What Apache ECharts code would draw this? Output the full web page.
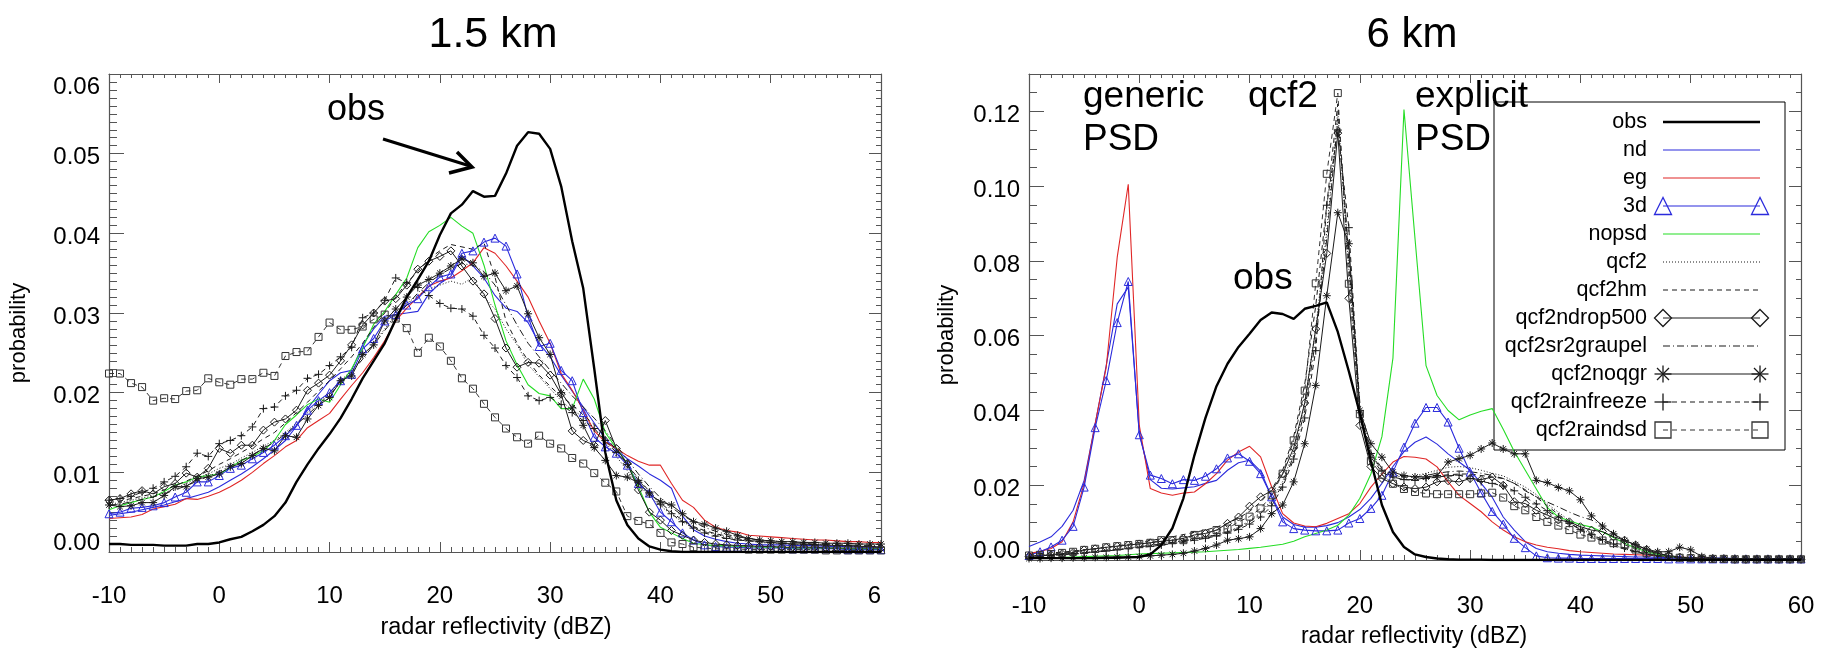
<!DOCTYPE html>
<html>
<head>
<meta charset="utf-8">
<script src="https://cdn.jsdelivr.net/npm/echarts@6/dist/echarts.min.js"></script>
<style>
  html, body { margin: 0; padding: 0; background: #fff; }
  #chart { width: 1830px; height: 651px; }
</style>
</head>
<body>
<div id="chart"></div>
<script>
// reflectivity bins (dBZ)
var dbz = [-10,-9,-8,-7,-6,-5,-4,-3,-2,-1,
  0,1,2,3,4,5,6,7,8,9,
  10,11,12,13,14,15,16,17,18,19,
  20,21,22,23,24,25,26,27,28,29,
  30,31,32,33,34,35,36,37,38,39,
  40,41,42,43,44,45,46,47,48,49,
  50,51,52,53,54,55,56,57,58,59,60];
var xTicks = [-10, 0, 10, 20, 30, 40, 50, 60];

var names = ['obs','nd','eg','3d','nopsd','qcf2','qcf2hm','qcf2ndrop500',
  'qcf2sr2graupel','qcf2noqgr','qcf2rainfreeze','qcf2raindsd'];

// ---- 1.5 km ----
var obsL = [0.0010,0.0010,0.0009,0.0009,0.0009,0.0008,0.0008,0.0008,0.0010,0.0010,
  0.0012,0.0016,0.0019,0.0026,0.0034,0.0045,0.0062,0.0088,0.0110,0.0130,
  0.0148,0.0168,0.0192,0.0218,0.0240,0.0262,0.0292,0.0320,0.0342,0.0365,
  0.0398,0.0425,0.0436,0.0453,0.0446,0.0447,0.0475,0.0510,0.0527,0.0525,
  0.0506,0.0459,0.0390,0.0331,0.0230,0.0125,0.0065,0.0034,0.0017,0.0007,
  0.0003,0.0001,0,0,0,0,0,0,0,0,
  0,0,0,0,0,0,0,0,0,0,0];
var ndL = [0.0046,0.0048,0.0050,0.0053,0.0056,0.0059,0.0063,0.0067,0.0071,0.0075,
  0.0082,0.0090,0.0098,0.0107,0.0117,0.0128,0.0140,0.0158,0.0180,0.0198,
  0.0215,0.0225,0.0228,0.0260,0.0280,0.0296,0.0298,0.0300,0.0302,0.0324,
  0.0337,0.0346,0.0372,0.0359,0.0344,0.0322,0.0306,0.0302,0.0288,0.0262,
  0.0245,0.0222,0.0202,0.0182,0.0162,0.0142,0.0128,0.0117,0.0108,0.0098,
  0.0090,0.0080,0.0045,0.0028,0.0020,0.0016,0.0013,0.0011,0.0010,0.0009,
  0.0009,0.0009,0.0008,0.0008,0.0008,0.0007,0.0007,0.0007,0.0006,0.0006,0.0006];
var egL = [0.0042,0.0043,0.0044,0.0047,0.0054,0.0057,0.0060,0.0067,0.0066,0.0070,
  0.0075,0.0082,0.0090,0.0100,0.0111,0.0121,0.0132,0.0140,0.0156,0.0165,
  0.0174,0.0192,0.0209,0.0225,0.0244,0.0265,0.0290,0.0306,0.0320,0.0334,
  0.0340,0.0344,0.0353,0.0363,0.0382,0.0375,0.0359,0.0340,0.0320,0.0290,
  0.0262,0.0224,0.0203,0.0178,0.0152,0.0138,0.0130,0.0121,0.0114,0.0109,
  0.0109,0.0086,0.0065,0.0056,0.0040,0.0031,0.0027,0.0025,0.0021,0.0020,
  0.0019,0.0018,0.0017,0.0016,0.0015,0.0015,0.0014,0.0013,0.0013,0.0012,0.0012];
var d3L = [0.0048,0.0050,0.0055,0.0056,0.0058,0.0062,0.0069,0.0075,0.0088,0.0088,
  0.0096,0.0105,0.0109,0.0117,0.0125,0.0134,0.0146,0.0159,0.0178,0.0190,
  0.0200,0.0215,0.0223,0.0255,0.0268,0.0290,0.0298,0.0310,0.0318,0.0333,
  0.0345,0.0349,0.0375,0.0378,0.0389,0.0394,0.0384,0.0349,0.0295,0.0258,
  0.0262,0.0228,0.0215,0.0175,0.0144,0.0132,0.0124,0.0109,0.0086,0.0074,
  0.0050,0.0038,0.0024,0.0015,0.0009,0.0007,0.0006,0.0006,0.0005,0.0005,
  0.0005,0.0005,0.0004,0.0004,0.0004,0.0004,0.0004,0.0003,0.0003,0.0003,0.0003];
var nopsdL = [0.0053,0.0058,0.0062,0.0066,0.0069,0.0076,0.0084,0.0088,0.0094,0.0096,
  0.0098,0.0106,0.0115,0.0120,0.0127,0.0140,0.0160,0.0172,0.0185,0.0192,
  0.0188,0.0210,0.0230,0.0256,0.0286,0.0302,0.0323,0.0344,0.0382,0.0402,
  0.0410,0.0420,0.0409,0.0400,0.0360,0.0310,0.0265,0.0235,0.0210,0.0199,
  0.0196,0.0180,0.0180,0.0217,0.0192,0.0150,0.0130,0.0111,0.0082,0.0050,
  0.0031,0.0024,0.0017,0.0011,0.0009,0.0008,0.0008,0.0007,0.0007,0.0006,
  0.0006,0.0006,0.0005,0.0005,0.0005,0.0005,0.0005,0.0004,0.0004,0.0004,0.0004];
var qcf2L = [0.0060,0.0062,0.0065,0.0068,0.0070,0.0074,0.0080,0.0086,0.0092,0.0098,
  0.0105,0.0110,0.0118,0.0125,0.0133,0.0140,0.0150,0.0162,0.0175,0.0188,
  0.0200,0.0215,0.0228,0.0245,0.0262,0.0280,0.0298,0.0312,0.0322,0.0330,
  0.0335,0.0340,0.0336,0.0345,0.0320,0.0305,0.0280,0.0260,0.0235,0.0220,
  0.0205,0.0190,0.0178,0.0170,0.0155,0.0138,0.0120,0.0102,0.0085,0.0070,
  0.0058,0.0047,0.0038,0.0031,0.0026,0.0022,0.0019,0.0016,0.0014,0.0012,
  0.0011,0.0010,0.0010,0.0009,0.0009,0.0008,0.0008,0.0007,0.0007,0.0007,0.0006];
var qcf2hmL = [0.0062,0.0064,0.0067,0.0070,0.0073,0.0078,0.0083,0.0089,0.0095,0.0102,
  0.0110,0.0117,0.0125,0.0133,0.0142,0.0150,0.0162,0.0175,0.0188,0.0202,
  0.0215,0.0230,0.0245,0.0262,0.0282,0.0300,0.0320,0.0338,0.0352,0.0368,
  0.0378,0.0386,0.0383,0.0380,0.0388,0.0345,0.0290,0.0262,0.0240,0.0222,
  0.0208,0.0195,0.0185,0.0172,0.0160,0.0145,0.0128,0.0110,0.0092,0.0076,
  0.0062,0.0050,0.0040,0.0032,0.0027,0.0023,0.0020,0.0017,0.0015,0.0013,
  0.0012,0.0011,0.0010,0.0010,0.0009,0.0009,0.0008,0.0008,0.0007,0.0007,0.0007];
var ndropL = [0.0065,0.0067,0.0073,0.0077,0.0073,0.0082,0.0086,0.0099,0.0094,0.0105,
  0.0130,0.0124,0.0134,0.0134,0.0153,0.0163,0.0167,0.0178,0.0203,0.0212,
  0.0222,0.0240,0.0260,0.0285,0.0300,0.0315,0.0318,0.0335,0.0355,0.0365,
  0.0371,0.0378,0.0359,0.0340,0.0324,0.0293,0.0256,0.0232,0.0238,0.0237,
  0.0222,0.0198,0.0152,0.0140,0.0134,0.0165,0.0130,0.0111,0.0078,0.0050,
  0.0040,0.0027,0.0021,0.0015,0.0012,0.0010,0.0009,0.0008,0.0008,0.0007,
  0.0007,0.0006,0.0006,0.0006,0.0006,0.0005,0.0005,0.0005,0.0005,0.0005,0.0005];
var graupelL = [0.0058,0.0060,0.0063,0.0066,0.0069,0.0073,0.0078,0.0083,0.0089,0.0095,
  0.0101,0.0108,0.0115,0.0122,0.0130,0.0138,0.0148,0.0160,0.0172,0.0185,
  0.0198,0.0212,0.0226,0.0242,0.0260,0.0278,0.0295,0.0310,0.0325,0.0338,
  0.0348,0.0356,0.0362,0.0360,0.0352,0.0335,0.0310,0.0285,0.0262,0.0245,
  0.0228,0.0212,0.0196,0.0182,0.0168,0.0152,0.0134,0.0116,0.0098,0.0082,
  0.0068,0.0056,0.0046,0.0038,0.0031,0.0026,0.0022,0.0019,0.0017,0.0015,
  0.0014,0.0013,0.0012,0.0011,0.0010,0.0010,0.0009,0.0009,0.0008,0.0008,0.0008];
var noqgrL = [0.0059,0.0057,0.0058,0.0062,0.0062,0.0071,0.0082,0.0082,0.0092,0.0094,
  0.0098,0.0107,0.0111,0.0121,0.0130,0.0127,0.0146,0.0144,0.0167,0.0184,
  0.0194,0.0215,0.0221,0.0248,0.0260,0.0290,0.0305,0.0320,0.0335,0.0342,
  0.0350,0.0359,0.0368,0.0363,0.0346,0.0350,0.0328,0.0334,0.0299,0.0269,
  0.0248,0.0200,0.0181,0.0159,0.0131,0.0115,0.0096,0.0094,0.0087,0.0073,
  0.0063,0.0059,0.0048,0.0038,0.0035,0.0030,0.0026,0.0021,0.0017,0.0015,
  0.0014,0.0013,0.0013,0.0012,0.0012,0.0011,0.0011,0.0011,0.0010,0.0010,0.0010];
var freezeL = [0.0065,0.0067,0.0070,0.0075,0.0080,0.0088,0.0095,0.0107,0.0124,0.0120,
  0.0136,0.0140,0.0146,0.0157,0.0180,0.0182,0.0196,0.0203,0.0218,0.0223,
  0.0234,0.0245,0.0257,0.0294,0.0300,0.0316,0.0344,0.0338,0.0332,0.0322,
  0.0312,0.0306,0.0305,0.0296,0.0272,0.0256,0.0234,0.0219,0.0196,0.0190,
  0.0194,0.0185,0.0175,0.0165,0.0155,0.0140,0.0125,0.0110,0.0090,0.0075,
  0.0060,0.0048,0.0038,0.0030,0.0024,0.0020,0.0017,0.0015,0.0014,0.0013,
  0.0012,0.0011,0.0010,0.0010,0.0009,0.0009,0.0008,0.0008,0.0007,0.0007,0.0006];
var dsdL = [0.0224,0.0224,0.0212,0.0207,0.0190,0.0193,0.0192,0.0202,0.0203,0.0218,
  0.0213,0.0210,0.0217,0.0217,0.0225,0.0221,0.0246,0.0251,0.0252,0.0270,
  0.0288,0.0279,0.0279,0.0283,0.0292,0.0298,0.0293,0.0281,0.0250,0.0269,
  0.0258,0.0240,0.0218,0.0205,0.0186,0.0169,0.0155,0.0144,0.0136,0.0146,
  0.0136,0.0130,0.0118,0.0111,0.0099,0.0087,0.0076,0.0045,0.0039,0.0035,
  0.0024,0.0012,0.0010,0.0006,0.0005,0.0004,0.0004,0.0004,0.0003,0.0003,
  0.0003,0.0003,0.0003,0.0003,0.0003,0.0002,0.0002,0.0002,0.0002,0.0002,0.0002];

// ---- 6 km ----
var obsR = [0.0005,0.0005,0.0005,0.0005,0.0005,0.0005,0.0005,0.0006,0.0006,0.0007,
  0.0008,0.0015,0.0040,0.0085,0.0165,0.0280,0.0380,0.0465,0.0525,0.0570,
  0.0605,0.0642,0.0662,0.0658,0.0645,0.0672,0.0680,0.0689,0.0610,0.0505,
  0.0392,0.0265,0.0147,0.0075,0.0035,0.0015,0.0008,0.0004,0.0002,0.0001,
  0.0001,0.0001,0,0,0,0,0,0,0,0,
  0,0,0,0,0,0,0,0,0,0,
  0,0,0,0,0,0,0,0,0,0,0];
var ndR = [0.0036,0.0048,0.0062,0.0090,0.0133,0.0213,0.0364,0.0520,0.0685,0.0730,
  0.0340,0.0215,0.0192,0.0190,0.0193,0.0196,0.0205,0.0213,0.0240,0.0260,
  0.0267,0.0238,0.0169,0.0115,0.0095,0.0088,0.0088,0.0092,0.0100,0.0115,
  0.0135,0.0165,0.0205,0.0250,0.0290,0.0315,0.0329,0.0310,0.0284,0.0262,
  0.0240,0.0205,0.0168,0.0115,0.0080,0.0049,0.0031,0.0022,0.0018,0.0015,
  0.0013,0.0012,0.0011,0.0010,0.0009,0.0008,0.0008,0.0007,0.0007,0.0006,
  0.0006,0.0005,0.0005,0.0005,0.0004,0.0004,0.0004,0.0004,0.0003,0.0003,0.0003];
var egR = [0.0017,0.0023,0.0031,0.0049,0.0102,0.0204,0.0364,0.0515,0.0810,0.1005,
  0.0360,0.0191,0.0179,0.0173,0.0179,0.0182,0.0204,0.0231,0.0267,0.0289,
  0.0304,0.0276,0.0196,0.0124,0.0099,0.0091,0.0089,0.0098,0.0111,0.0124,
  0.0151,0.0195,0.0230,0.0262,0.0277,0.0275,0.0270,0.0249,0.0209,0.0173,
  0.0151,0.0129,0.0102,0.0080,0.0062,0.0049,0.0040,0.0034,0.0030,0.0025,
  0.0022,0.0020,0.0018,0.0016,0.0015,0.0014,0.0013,0.0012,0.0010,0.0008,
  0.0006,0.0005,0.0004,0.0004,0.0003,0.0003,0.0003,0.0002,0.0002,0.0002,0.0002];
var d3R = [0.0012,0.0022,0.0035,0.0053,0.0090,0.0195,0.0354,0.0480,0.0635,0.0745,
  0.0335,0.0227,0.0218,0.0204,0.0215,0.0213,0.0224,0.0244,0.0273,0.0284,
  0.0264,0.0231,0.0169,0.0102,0.0084,0.0080,0.0078,0.0078,0.0080,0.0099,
  0.0111,0.0138,0.0173,0.0235,0.0302,0.0366,0.0408,0.0408,0.0369,0.0299,
  0.0235,0.0180,0.0130,0.0096,0.0058,0.0033,0.0011,0.0006,0.0005,0.0005,
  0.0004,0.0004,0.0004,0.0004,0.0004,0.0004,0.0004,0.0004,0.0003,0.0003,
  0.0003,0.0003,0.0003,0.0003,0.0003,0.0003,0.0003,0.0003,0.0003,0.0003,0.0003];
var nopsdR = [0.0004,0.0005,0.0006,0.0007,0.0008,0.0009,0.0010,0.0011,0.0012,0.0014,
  0.0016,0.0017,0.0018,0.0019,0.0020,0.0021,0.0022,0.0024,0.0026,0.0028,
  0.0031,0.0034,0.0038,0.0042,0.0050,0.0062,0.0071,0.0080,0.0093,0.0120,
  0.0165,0.0230,0.0330,0.0540,0.1205,0.0860,0.0520,0.0440,0.0400,0.0375,
  0.0388,0.0398,0.0405,0.0350,0.0290,0.0240,0.0190,0.0140,0.0115,0.0105,
  0.0095,0.0088,0.0075,0.0060,0.0045,0.0032,0.0022,0.0015,0.0010,0.0007,
  0.0005,0.0004,0.0003,0.0003,0.0003,0.0002,0.0002,0.0002,0.0002,0.0002,0.0002];
var qcf2R = [0.0010,0.0012,0.0014,0.0016,0.0018,0.0020,0.0023,0.0026,0.0029,0.0032,
  0.0036,0.0040,0.0044,0.0048,0.0052,0.0057,0.0062,0.0068,0.0076,0.0088,
  0.0105,0.0128,0.0160,0.0210,0.0290,0.0420,0.0620,0.0880,0.1200,0.0780,
  0.0380,0.0280,0.0240,0.0225,0.0222,0.0225,0.0232,0.0240,0.0248,0.0250,
  0.0247,0.0240,0.0232,0.0225,0.0210,0.0195,0.0175,0.0150,0.0128,0.0105,
  0.0085,0.0068,0.0052,0.0040,0.0030,0.0022,0.0016,0.0012,0.0009,0.0007,
  0.0005,0.0004,0.0003,0.0003,0.0003,0.0002,0.0002,0.0002,0.0002,0.0002,0.0002];
var qcf2hmR = [0.0015,0.0017,0.0019,0.0021,0.0024,0.0027,0.0030,0.0034,0.0038,0.0042,
  0.0047,0.0052,0.0057,0.0062,0.0068,0.0074,0.0080,0.0088,0.0098,0.0112,
  0.0130,0.0155,0.0188,0.0240,0.0330,0.0470,0.0680,0.0950,0.1220,0.0800,
  0.0390,0.0275,0.0235,0.0220,0.0215,0.0215,0.0220,0.0225,0.0228,0.0230,
  0.0230,0.0226,0.0222,0.0218,0.0205,0.0188,0.0168,0.0145,0.0122,0.0100,
  0.0080,0.0064,0.0050,0.0038,0.0029,0.0021,0.0015,0.0011,0.0008,0.0006,
  0.0005,0.0004,0.0003,0.0003,0.0002,0.0002,0.0002,0.0002,0.0002,0.0002,0.0002];
var ndropR = [0.0010,0.0012,0.0014,0.0017,0.0020,0.0027,0.0030,0.0034,0.0037,0.0040,
  0.0043,0.0046,0.0050,0.0053,0.0058,0.0067,0.0071,0.0080,0.0098,0.0115,
  0.0144,0.0169,0.0185,0.0230,0.0300,0.0420,0.0618,0.0820,0.1142,0.0700,
  0.0360,0.0250,0.0218,0.0204,0.0195,0.0191,0.0195,0.0209,0.0212,0.0209,
  0.0218,0.0215,0.0222,0.0200,0.0156,0.0151,0.0133,0.0120,0.0107,0.0102,
  0.0089,0.0080,0.0076,0.0062,0.0053,0.0040,0.0028,0.0018,0.0012,0.0008,
  0.0006,0.0004,0.0003,0.0003,0.0002,0.0002,0.0002,0.0002,0.0002,0.0002,0.0002];
var graupelR = [0.0010,0.0011,0.0013,0.0015,0.0017,0.0019,0.0022,0.0025,0.0028,0.0031,
  0.0035,0.0039,0.0043,0.0047,0.0051,0.0056,0.0061,0.0067,0.0075,0.0086,
  0.0102,0.0125,0.0155,0.0200,0.0280,0.0400,0.0590,0.0860,0.1180,0.0820,
  0.0420,0.0290,0.0245,0.0228,0.0222,0.0222,0.0226,0.0232,0.0236,0.0238,
  0.0236,0.0232,0.0226,0.0218,0.0205,0.0185,0.0169,0.0155,0.0142,0.0128,
  0.0116,0.0107,0.0092,0.0072,0.0052,0.0036,0.0025,0.0017,0.0012,0.0008,
  0.0006,0.0004,0.0003,0.0003,0.0002,0.0002,0.0002,0.0002,0.0002,0.0002,0.0002];
var noqgrR = [0.0004,0.0004,0.0005,0.0005,0.0006,0.0006,0.0007,0.0007,0.0008,0.0008,
  0.0009,0.0011,0.0013,0.0015,0.0018,0.0024,0.0031,0.0040,0.0053,0.0057,
  0.0062,0.0084,0.0124,0.0147,0.0209,0.0311,0.0467,0.0707,0.0929,0.0846,
  0.0400,0.0311,0.0275,0.0235,0.0226,0.0222,0.0222,0.0226,0.0262,0.0271,
  0.0280,0.0297,0.0313,0.0297,0.0284,0.0284,0.0213,0.0207,0.0194,0.0185,
  0.0161,0.0118,0.0091,0.0070,0.0052,0.0041,0.0029,0.0022,0.0022,0.0034,
  0.0027,0.0009,0.0005,0.0004,0.0004,0.0003,0.0003,0.0003,0.0003,0.0003,0.0003];
var freezeR = [0.0008,0.0010,0.0012,0.0014,0.0016,0.0018,0.0021,0.0024,0.0027,0.0030,
  0.0033,0.0036,0.0040,0.0044,0.0048,0.0053,0.0058,0.0064,0.0072,0.0082,
  0.0096,0.0115,0.0145,0.0195,0.0270,0.0380,0.0560,0.0949,0.1150,0.0889,
  0.0400,0.0285,0.0240,0.0222,0.0215,0.0213,0.0218,0.0222,0.0225,0.0227,
  0.0218,0.0210,0.0205,0.0198,0.0185,0.0168,0.0150,0.0132,0.0115,0.0098,
  0.0082,0.0068,0.0055,0.0043,0.0032,0.0023,0.0016,0.0011,0.0008,0.0006,
  0.0005,0.0004,0.0003,0.0003,0.0002,0.0002,0.0002,0.0002,0.0002,0.0002,0.0002];
var dsdR = [0.0012,0.0014,0.0016,0.0019,0.0022,0.0027,0.0030,0.0034,0.0037,0.0040,
  0.0043,0.0046,0.0053,0.0053,0.0053,0.0067,0.0071,0.0080,0.0084,0.0102,
  0.0116,0.0138,0.0173,0.0231,0.0320,0.0453,0.0740,0.1033,0.1249,0.0739,
  0.0390,0.0265,0.0228,0.0204,0.0190,0.0182,0.0178,0.0176,0.0176,0.0176,
  0.0176,0.0178,0.0180,0.0167,0.0144,0.0133,0.0115,0.0102,0.0092,0.0080,
  0.0068,0.0060,0.0052,0.0045,0.0041,0.0028,0.0018,0.0012,0.0008,0.0006,
  0.0005,0.0004,0.0003,0.0003,0.0002,0.0002,0.0002,0.0002,0.0002,0.0002,0.0002];

var panelL = [obsL, ndL, egL, d3L, nopsdL, qcf2L, qcf2hmL, ndropL, graupelL, noqgrL, freezeL, dsdL];
var panelR = [obsR, ndR, egR, d3R, nopsdR, qcf2R, qcf2hmR, ndropR, graupelR, noqgrR, freezeR, dsdR];

// line looks
var PLUS = 'path://M5,0L5,10M0,5L10,5';
var STAR = 'path://M5,0L5,10M0,5L10,5M1.5,1.5L8.5,8.5M8.5,1.5L1.5,8.5';
var BLUE = '#2b2bdc', RED = '#e02626', GREEN = '#25dd25', INK = '#1a1a1a';
var look = {
  'obs':            { c: '#000', w: 2.4, dash: 'solid' },
  'nd':             { c: BLUE, w: 1.1, dash: 'solid' },
  'eg':             { c: RED, w: 1.1, dash: 'solid' },
  '3d':             { c: BLUE, w: 1.1, dash: 'solid', sym: 'triangle', size: 8 },
  'nopsd':          { c: GREEN, w: 1.1, dash: 'solid' },
  'qcf2':           { c: INK, w: 1, dash: [1, 2] },
  'qcf2hm':         { c: INK, w: 1, dash: [5, 4] },
  'qcf2ndrop500':   { c: INK, w: 1, dash: 'solid', sym: 'diamond', size: 8 },
  'qcf2sr2graupel': { c: INK, w: 1, dash: [7, 3, 1, 3] },
  'qcf2noqgr':      { c: INK, w: 1, dash: 'solid', sym: STAR, size: 8 },
  'qcf2rainfreeze': { c: INK, w: 1, dash: [5, 4], sym: PLUS, size: 8 },
  'qcf2raindsd':    { c: '#333', w: 1, dash: [5, 4], sym: 'rect', size: 7 }
};

function makeSeries(gridIdx, vals) {
  return names.map(function (n, k) {
    var lk = look[n];
    return {
      name: n, type: 'line',
      xAxisIndex: gridIdx * 2, yAxisIndex: gridIdx * 2,
      data: dbz.map(function (x, i) { return [x, vals[k][i]]; }),
      symbol: lk.sym || 'none', symbolSize: lk.size || 0,
      showSymbol: !!lk.sym,
      itemStyle: { color: 'rgba(0,0,0,0)', borderColor: lk.c, borderWidth: 1 },
      lineStyle: { color: lk.c, width: lk.w, type: lk.dash },
      z: n === 'obs' ? 5 : 3,
      emphasis: { disabled: true },
      silent: true, animation: false
    };
  });
}

var FONT = 'Liberation Sans, Arial, Helvetica, sans-serif';
var AX = '#555';

function xAx(grid, top) {
  return {
    gridIndex: grid, type: 'value', min: -10, max: 60, interval: 10,
    position: top ? 'top' : 'bottom',
    axisLine: { onZero: false, lineStyle: { color: AX, width: 1.2 } },
    axisTick: { inside: true, length: top ? 9 : 10, lineStyle: { color: AX } },
    minorTick: { show: true, splitNumber: 10, length: top ? 4 : 5, lineStyle: { color: AX } },
    splitLine: { show: false },
    axisLabel: { show: !top, margin: grid === 0 ? 32 : 34, fontSize: 24, color: '#000', fontFamily: FONT }
  };
}
function labelRich(size) {
  var base = { fontSize: size, fontFamily: FONT, color: '#000' };
  return {
    m:  Object.assign({ padding: [8, 0, 0, 0] }, base),
    lo: Object.assign({ padding: [0, 0, 17, 0] }, base),
    hi: Object.assign({ padding: [26, 0, 0, 0] }, base)
  };
}
function yAx(grid, right, max, step, minor) {
  return {
    gridIndex: grid, type: 'value', min: 0, max: max, interval: step,
    position: right ? 'right' : 'left',
    axisLine: { onZero: false, lineStyle: { color: AX, width: 1.2 } },
    axisTick: { inside: true, length: right ? 12 : 15, lineStyle: { color: AX } },
    minorTick: { show: true, splitNumber: minor, length: right ? 5 : 8, lineStyle: { color: AX } },
    splitLine: { show: false },
    axisLabel: {
      show: !right, margin: 9, fontSize: 24, color: '#000', fontFamily: FONT,
      showMaxLabel: max === 0.06,
      rich: labelRich(24),
      formatter: function (v) {
        var s = v.toFixed(2);
        if (Math.abs(v) < 1e-9) return '{lo|' + s + '}';
        if (Math.abs(v - 0.06) < 1e-9 && max === 0.06) return '{hi|' + s + '}';
        return '{m|' + s + '}';
      }
    }
  };
}

// legend (drawn as graphics, right panel)
var legX = 1647, lineA = 1663, lineB = 1760, rowY0 = 122, rowStep = 28;
function legSymbol(sym, cx, cy, color) {
  var st = { stroke: color, fill: 'none', lineWidth: 1.3 };
  var h = 8.5;
  if (sym === 'triangle') return { type: 'polygon', shape: { points: [[cx, cy - h], [cx - h, cy + h], [cx + h, cy + h]] }, style: st };
  if (sym === 'diamond') return { type: 'polygon', shape: { points: [[cx, cy - h], [cx + h, cy], [cx, cy + h], [cx - h, cy]] }, style: st };
  if (sym === 'rect') return { type: 'rect', shape: { x: cx - 8, y: cy - 8, width: 16, height: 16 }, style: st };
  var segs = [[cx, cy - h, cx, cy + h], [cx - h, cy, cx + h, cy]];
  if (sym === STAR) segs.push([cx - 6, cy - 6, cx + 6, cy + 6], [cx + 6, cy - 6, cx - 6, cy + 6]);
  return { type: 'group', children: segs.map(function (s) {
    return { type: 'line', shape: { x1: s[0], y1: s[1], x2: s[2], y2: s[3] }, style: st };
  }) };
}
var graphics = [];
names.forEach(function (n, i) {
  var lk = look[n], y = rowY0 + i * rowStep;
  graphics.push({ type: 'text', style: { x: legX, y: y, text: n, align: 'right', verticalAlign: 'middle', fontSize: 21.5, fontFamily: FONT, fill: '#000' } });
  graphics.push({ type: 'line', shape: { x1: lineA, y1: y, x2: lineB, y2: y },
    style: { stroke: lk.c, lineWidth: n === 'obs' ? 2.4 : 1.2, lineDash: Array.isArray(lk.dash) ? lk.dash : null } });
  if (lk.sym) {
    graphics.push(legSymbol(lk.sym, lineA, y, lk.c));
    graphics.push(legSymbol(lk.sym, lineB, y, lk.c));
  }
});
graphics.push({ type: 'rect', shape: { x: 1494, y: 102, width: 291, height: 348 }, style: { stroke: '#000', fill: 'none', lineWidth: 1 } });

function txt(x, y, s, size, align) {
  return { type: 'text', style: { x: x, y: y, text: s, fontSize: size, fontFamily: FONT, fill: '#000', align: align || 'left', verticalAlign: 'middle' } };
}
function vtxt(x, y, s, size) {
  return { type: 'text', x: x, y: y, rotation: Math.PI / 2,
    style: { x: 0, y: 0, text: s, fontSize: size, fontFamily: FONT, fill: '#000', align: 'center', verticalAlign: 'middle' } };
}
// titles and axis names
graphics.push(txt(493, 35, '1.5 km', 43, 'center'));
graphics.push(txt(1412, 35, '6 km', 42, 'center'));
graphics.push(txt(496, 628, 'radar reflectivity (dBZ)', 23.5, 'center'));
graphics.push(txt(1414, 637, 'radar reflectivity (dBZ)', 23, 'center'));
graphics.push(vtxt(19, 333, 'probability', 22));
graphics.push(vtxt(947, 335, 'probability', 22));
// annotations
graphics.push(txt(327, 110, 'obs', 36));
graphics.push({ type: 'line', shape: { x1: 383, y1: 139, x2: 470, y2: 166 }, style: { stroke: '#000', lineWidth: 3 } });
graphics.push({ type: 'polyline', shape: { points: [[457, 152], [472, 167], [449, 173]] }, style: { stroke: '#000', lineWidth: 3.5, fill: 'none' } });
graphics.push(txt(1083, 97, 'generic', 37));
graphics.push(txt(1083, 140, 'PSD', 37));
graphics.push(txt(1248, 97, 'qcf2', 37));
graphics.push(txt(1415, 97, 'explicit', 37));
graphics.push(txt(1415, 140, 'PSD', 37));
graphics.push(txt(1233, 279, 'obs', 37));
// the left figure is cut just right of its frame
graphics.push({ type: 'rect', shape: { x: 882, y: 565, width: 20, height: 50 }, style: { fill: '#fff' }, z: 100 });

var chart = echarts.init(document.getElementById('chart'));
chart.setOption({
  backgroundColor: '#fff',
  animation: false,
  grid: [
    { left: 109, top: 74, width: 772, height: 478, outerBoundsMode: 'none' },
    { left: 1029, top: 74, width: 772, height: 486, outerBoundsMode: 'none' }
  ],
  xAxis: [xAx(0, false), xAx(0, true), xAx(1, false), xAx(1, true)],
  yAxis: [yAx(0, false, 0.06, 0.01, 10), yAx(0, true, 0.06, 0.01, 10),
          yAx(1, false, 0.13, 0.02, 4), yAx(1, true, 0.13, 0.02, 4)],
  series: makeSeries(0, panelL).concat(makeSeries(1, panelR)),
  graphic: graphics
});
</script>
</body>
</html>
